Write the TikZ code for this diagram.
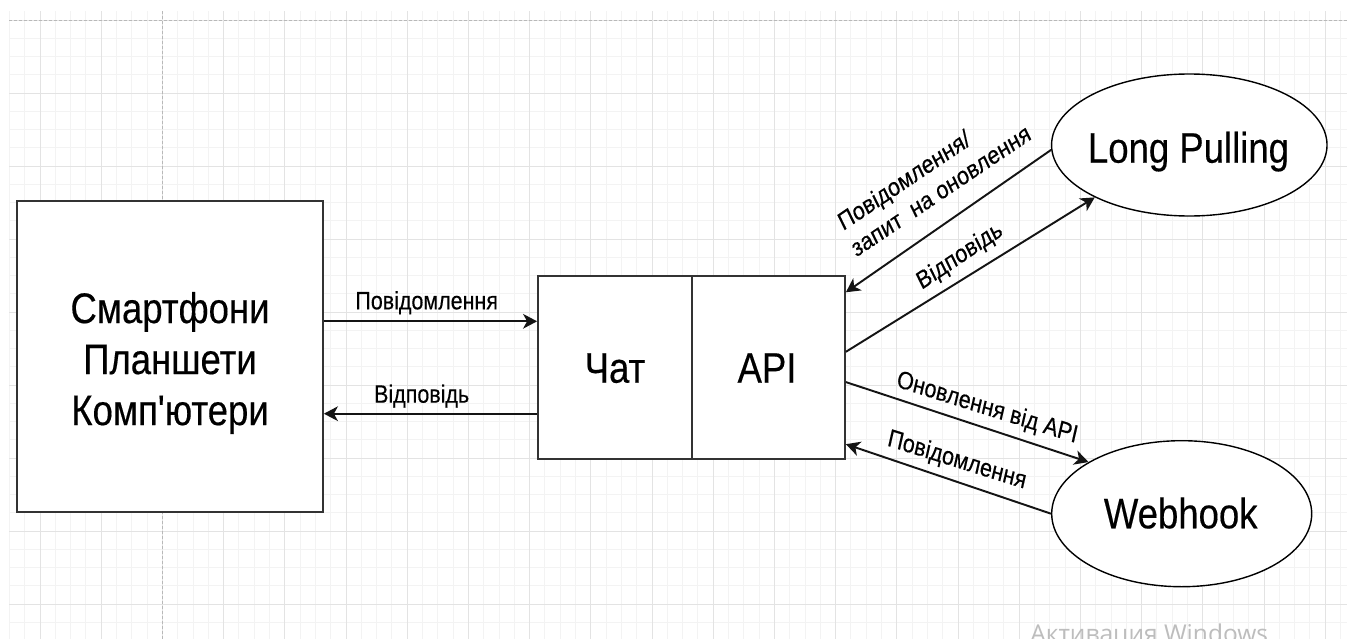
\documentclass[tikz,border=0pt]{standalone}
\usepackage{fontspec}
\setmainfont{Liberation Sans}
\newfontfamily\arialfont{Liberation Sans}[FakeBold=0.35]
\newfontfamily\osfont{Open Sans}
\usetikzlibrary{arrows.meta,shapes.geometric,calc}
\definecolor{gridminor}{HTML}{F3F3F3}
\definecolor{gridmajor}{HTML}{E3E3E3}
\definecolor{pagebreak}{HTML}{B8B8B8}
\definecolor{boxline}{HTML}{333333}
\definecolor{wmgray}{HTML}{BDBDBD}

\begin{document}
\begin{tikzpicture}[x=0.75pt,y=-0.75pt,
  shapebox/.style={draw=boxline, line width=1.35pt, fill=white, rectangle, inner sep=0pt},
  oval/.style={draw=black, line width=1.05pt, fill=white, ellipse, inner sep=0pt},
  conn/.style={draw=black!92, line width=1.45pt, -{Stealth[length=10.5pt,width=11pt,inset=3pt]}},
  bigtxt/.style={font={\arialfont\fontsize{27.4pt}{32.7pt}\selectfont}, inner sep=0pt, yscale=1.17},
  smalltxt/.style={font={\arialfont\fontsize{16.1pt}{19.6pt}\selectfont}, inner sep=0pt, yscale=1.17},
]
\useasboundingbox (0,0) rectangle (1347,639);
\clip (0,0) rectangle (1347,639);
\fill[white] (0,0) rectangle (1347,639);

% background grid
\foreach \i in {0,...,87} {\draw[gridminor, line width=0.75pt] ({9.4+15.3*\i},11) -- ++(0,628);}
\foreach \j in {0,...,34} {\draw[gridminor, line width=0.75pt] (9.4,{20+18.25*\j}) -- (1347,{20+18.25*\j});}
\foreach \k in {0,...,21} {\draw[gridmajor, line width=0.75pt] ({40+61.2*\k},11) -- ++(0,628);}
\foreach \k in {0,...,8} {\draw[gridmajor, line width=0.75pt] (9.4,{20+73*\k}) -- (1347,{20+73*\k});}
% page break lines
\draw[pagebreak, line width=0.75pt, dash pattern=on 2.25pt off 1.5pt] (162.4,11) -- (162.4,639);
\draw[pagebreak, line width=0.75pt, dash pattern=on 2.25pt off 1.5pt] (9.4,20) -- (1347,20);

% shapes
\node[shapebox, minimum width=229.5pt, minimum height=233.25pt] (dev) at (170,356.5) {};
\node[shapebox, minimum width=115.5pt, minimum height=137.25pt] (chat) at (615,367.5) {};
\node[shapebox, minimum width=114.75pt, minimum height=137.25pt] (api) at (768.5,367.5) {};
\node[oval, minimum width=206.6pt, minimum height=106.5pt] (lp) at (1189.3,145) {};
\node[oval, minimum width=195pt, minimum height=109.5pt] (wh) at (1181.7,513.7) {};

% shape texts
\node[bigtxt, align=center] (devtxt) at ($(dev.center)+(0,6.5)$) {Смартфони\\Планшети\\Комп'ютери};
\node[bigtxt, anchor=base] (chattxt) at ($(chat.center)+(0,15.2)$) {Чат};
\node[bigtxt, anchor=base] (apitxt) at ($(api.center)+(-1.5,15.2)$) {API};
\node[bigtxt, anchor=base] (lptxt) at ($(lp.center)+(-0.8,17.7)$) {Long Pulling};
\node[bigtxt, anchor=base] (whtxt) at ($(wh.center)+(-1,14.6)$) {Webhook};

% connectors
\coordinate (c1) at ($(chat.north west)!0.25!(chat.south west)$);
\coordinate (c2) at ($(chat.north west)!0.75!(chat.south west)$);
\coordinate (a1) at ($(api.north east)!0.093!(api.south east)$);
\coordinate (a2) at ($(api.north east)!0.415!(api.south east)$);
\coordinate (a3) at ($(api.north east)!0.579!(api.south east)$);
\coordinate (a4) at ($(api.north east)!0.915!(api.south east)$);
\draw[conn] (dev.east |- c1) -- (c1);
\draw[conn] (c2) -- (dev.east |- c2);
\draw[conn] (lp.182) -- (a1);
\draw[conn] (a2) -- (lp.209);
\draw[conn] (a3) -- (wh.151);
\draw[conn] (wh.west) -- (a4);

% connector labels
\node[smalltxt, anchor=base] (t1) at (426.7,309.3) {Повідомлення};
\node[smalltxt, anchor=base] (t2) at (421.7,402.7) {Відповідь};
\node[smalltxt, align=left, rotate=30] (t3) at (934,177) {Повідомлення/\\запит\ \ на оновлення};
\node[smalltxt, rotate=30, anchor=base] (t4) at (962.8,262.2) {Відповідь};
\node[smalltxt, rotate=-15, anchor=base] (t5) at (985.7,414.8) {Оновлення від API};
\node[smalltxt, rotate=-15, anchor=base] (t6) at (955.5,467.1) {Повідомлення};

% system watermark
\node[font={\osfont\fontsize{18.4pt}{20pt}\selectfont}, text=wmgray, anchor=base west, inner sep=0pt] (wm) at (1030,642) {Активация Windows};
\end{tikzpicture}
\end{document}
